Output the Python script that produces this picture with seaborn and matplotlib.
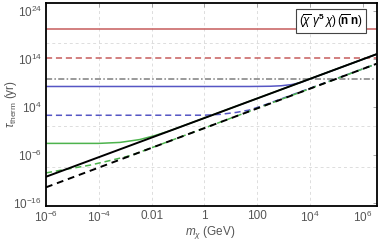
import matplotlib
matplotlib.use("Agg")
import matplotlib.pyplot as plt
import seaborn as sns
import numpy as np

# values, as log10(m / GeV) and log10(tau / yr)
red_solid_logm = [-6, 6.5]
red_solid_logt = [20.1, 20.1]
red_dash_logm = [-6, 6.5]
red_dash_logt = [14.15, 14.15]
gray_logm = [-6, 6.5]
gray_logt = [9.75, 9.75]

blue_solid_logm = [-6, 1.7, 2.5, 2.9, 3.3, 3.65, 4.2, 6.5]
blue_solid_logt = [8.2, 8.2, 8.25, 8.35, 8.6, 9.05, 10.2, 14.9]
blue_dash_logm = [-6, 0.0, 0.6, 1.2, 1.7, 2.2, 6.5]
blue_dash_logt = [2.2, 2.22, 2.4, 2.8, 3.3, 4.2, 12.9]

green_solid_logm = [-6, -4.0, -3.2, -2.45, -1.9, -1.3, 6.5]
green_solid_logt = [-3.65, -3.65, -3.45, -2.85, -2.05, -1.0, 14.9]
green_dash_logm = [-6, -5.45, -4.35, -3.6, -2.8, 6.5]
green_dash_logt = [-9.8, -9.25, -8.2, -7.25, -6.2, 12.9]

black_solid_logm = [-6, 6.5]
black_solid_logt = [-10.6, 14.9]
black_dash_logm = [-6, 6.5]
black_dash_logt = [-12.8, 12.9]

xticks = [1e-6, 1e-4, 1e-2, 1, 1e2, 1e4, 1e6]
xticklabels = [r'$10^{-6}$', r'$10^{-4}$', '0.01', '1', '100', r'$10^{4}$', r'$10^{6}$']
yticks = [1e-16, 1e-6, 1e4, 1e14, 1e24]
yticklabels = [r'$10^{-16}$', r'$10^{-6}$', r'$10^{4}$', r'$10^{14}$', r'$10^{24}$']
xgrid = [1e-4, 1e-2, 1, 1e2, 1e4]
ygrid_log = [17.2, 0.0, -8.6]

sns.set_style('white')
plt.rcParams['font.family'] = ['Liberation Sans', 'DejaVu Sans']
plt.rcParams['mathtext.fontset'] = 'custom'
plt.rcParams['mathtext.rm'] = 'Liberation Sans'
plt.rcParams['mathtext.it'] = 'Liberation Sans:italic'
plt.rcParams['mathtext.bf'] = 'Liberation Sans:bold'

fig = plt.figure(figsize=(3.82, 2.45), dpi=100)
ax = fig.add_axes([0.1204, 0.159, 0.8665, 0.829])

red = '#c65c5c'
blue = '#5656c4'
green = '#4db34d'
gray = '#7f7f7f'

def draw(logm, logt, color, lw=1.1, dashes=None):
    x = 10 ** np.array(logm, dtype=float)
    y = 10 ** np.array(logt, dtype=float)
    sns.lineplot(x=x, y=y, ax=ax, color=color, lw=lw, sort=False, estimator=None)
    if dashes is not None:
        ax.lines[-1].set_dashes(dashes)

ax.set_xscale('log')
ax.set_yscale('log')

for g in xgrid:
    ax.axvline(g, color='#dddddd', lw=0.7, ls=(0, (3, 3)), zorder=0)
for g in ygrid_log:
    ax.axhline(10 ** g, color='#dddddd', lw=0.7, ls=(0, (3, 3)), zorder=0)

draw(red_solid_logm, red_solid_logt, red)
draw(red_dash_logm, red_dash_logt, red, dashes=(4, 2.5))
draw(gray_logm, gray_logt, gray, dashes=(4, 1.5, 1, 1.5))
draw(blue_solid_logm, blue_solid_logt, blue)
draw(blue_dash_logm, blue_dash_logt, blue, dashes=(4, 2.5))
draw(green_solid_logm, green_solid_logt, green)
draw(green_dash_logm, green_dash_logt, green, dashes=(4, 2.5))
draw(black_solid_logm, black_solid_logt, 'black', lw=1.4)
draw(black_dash_logm, black_dash_logt, 'black', lw=1.4, dashes=(3.5, 2.5))

ax.set_xlim(1e-6, 10 ** 6.53)
ax.set_ylim(10 ** -16.7, 10 ** 25.6)

ax.set_xticks(xticks)
ax.set_xticklabels(xticklabels)
ax.set_yticks(yticks)
ax.set_yticklabels(yticklabels)
ax.minorticks_off()
ax.tick_params(direction='in', length=3, width=0.6, color='#999999',
               labelsize=8.5, labelcolor='#555555', top=True, right=True)
ax.tick_params(axis='x', pad=3)
ax.tick_params(axis='y', pad=3)

for s in ax.spines.values():
    s.set_color('black')
    s.set_linewidth(1.3)

ax.set_xlabel(r'$m_\chi$ (GeV)', fontsize=8.5, color='#555555')
ax.set_ylabel(r'$\tau_{\rm therm}$ (yr)', fontsize=8.5, color='#555555')
ax.xaxis.set_label_coords(0.495, -0.128)
ax.xaxis.label.set_va('center')
ax.yaxis.set_label_coords(-0.107, 0.5)
ax.yaxis.label.set_va('center')

ax.text(0.958, 0.955,
        r'$(\overline{\chi}\;\gamma^{\mathbf{5}}\,\chi)\,(\overline{\mathbf{n}}\;\mathbf{n})$',
        transform=ax.transAxes, ha='right', va='top', fontsize=8.5, color='black',
        bbox=dict(boxstyle='square,pad=0.25', fc='white', ec='#444444', lw=0.8))

fig.savefig('out.png', dpi=100)
